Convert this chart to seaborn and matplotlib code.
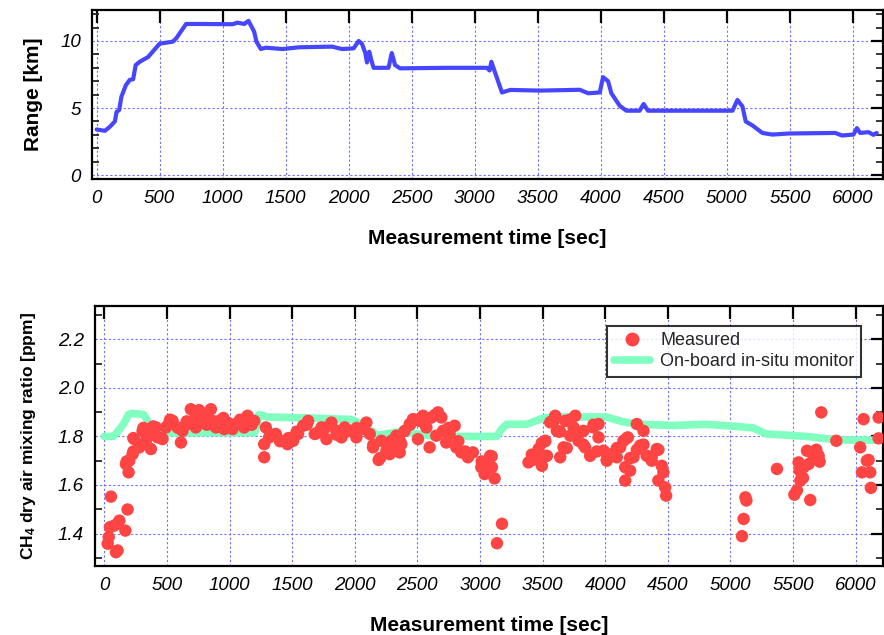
import numpy as np
import pandas as pd
import seaborn as sns
import matplotlib.pyplot as plt
from matplotlib.ticker import MultipleLocator
from matplotlib.lines import Line2D

# range to target (top panel)
range_t = [0, 66, 105, 145, 158, 179, 197, 232, 263, 290, 310, 342, 408, 500, 605, 632, 710, 816,
           1079, 1118, 1171, 1205, 1250, 1268, 1303, 1342, 1474, 1605, 1868, 1947, 2039, 2079, 2105,
           2132, 2145, 2163, 2179, 2197, 2316, 2342, 2368, 2408, 2789, 3097, 3118, 3132, 3163, 3216,
           3282, 3518, 3834, 3900, 3992, 4018, 4058, 4084, 4150, 4203, 4308, 4340, 4374, 4571, 5045,
           5084, 5124, 5150, 5203, 5282, 5361, 5492, 5861, 5913, 6005, 6032, 6058, 6124, 6163, 6189]
range_km = [3.4, 3.3, 3.6, 4.0, 4.7, 4.85, 5.85, 6.7, 7.1, 7.15, 8.2, 8.45, 8.8, 9.8, 9.95, 10.2, 11.27, 11.27,
            11.25, 11.37, 11.27, 11.5, 10.7, 9.95, 9.4, 9.5, 9.4, 9.53, 9.58, 9.4, 9.45, 10.0, 9.8,
            9.1, 8.4, 9.2, 8.6, 8.0, 8.0, 9.1, 8.2, 7.96, 8.0, 8.0, 7.8, 8.45, 7.6, 6.16,
            6.35, 6.3, 6.36, 6.1, 6.16, 7.3, 7.0, 6.1, 5.17, 4.8, 4.8, 5.3, 4.8, 4.8, 4.8,
            5.6, 5.12, 4.0, 3.7, 3.14, 3.02, 3.1, 3.14, 2.95, 3.02, 3.5, 3.14, 3.2, 3.0, 3.14]

# on-board in-situ monitor
insitu_t = [0, 72, 99, 152, 193, 219, 313, 340, 380, 500, 700, 1200, 1235, 1300, 1676, 1970, 2060,
            2184, 2371, 2639, 2840, 3133, 3173, 3213, 3372, 3505, 3559, 3851, 4011, 4144, 4277,
            4543, 4809, 5074, 5181, 5287, 5606, 5872, 6240]
insitu_ppm = [1.80, 1.80, 1.815, 1.85, 1.89, 1.895, 1.89, 1.87, 1.82, 1.815, 1.815, 1.815, 1.89, 1.88, 1.875,
              1.87, 1.85, 1.805, 1.82, 1.80, 1.80, 1.80, 1.83, 1.85, 1.85, 1.875, 1.88, 1.88, 1.88, 1.86,
              1.85, 1.845, 1.85, 1.84, 1.835, 1.81, 1.80, 1.785, 1.785]

# measured CH4
meas_t = [53, 186, 120, 45, 80, 168, 35, 27, 93, 106,
          194, 173, 199, 226, 239, 279, 306, 332, 359, 372, 412, 426, 465, 492, 519, 545, 585, 612,
          625, 665, 691, 705, 731, 758, 785, 811, 851, 864, 891, 918, 957, 984, 1024, 1051, 1090,
          1117, 1144, 1170, 1197, 1277, 1290, 1277, 1316, 1370, 1410, 1463, 1503,
          1508, 1548, 1588, 1628, 1681, 1734, 1774, 1814, 1854, 1894, 1920, 1973, 2013, 2053, 2093,
          2120, 2146, 2191, 2213, 2253, 2279, 2293, 2332, 2359, 2372, 2399, 2439, 2465, 2505, 2519,
          2545, 2572, 2598, 2612, 2651, 2665, 2692, 2705, 2731, 2758, 2798, 2811, 2851, 2904, 2944,
          3011, 3037, 3064,
          3082, 3096, 3117, 3069, 3176, 3136, 3388, 3428, 3468, 3495, 3521, 3535, 3561, 3601, 3614,
          3641, 3668, 3681, 3721, 3747, 3761, 3787, 3827, 3840, 3880, 3907, 3947, 3947, 3987, 4013,
          4053, 4093, 4120, 4146, 4160, 4160, 4181, 4199, 4226, 4253, 4279, 4306, 4332, 4372, 4412,
          4425, 4452, 4465, 4479, 4487,
          5120, 5128, 5106, 5093, 5372, 5511, 5532, 5559, 5580, 5553, 5545, 5585, 5612, 5625, 5638,
          5665, 5686, 5705, 5713, 5726, 5846, 6037, 6064, 6090, 6104, 6051, 6117, 6122, 6184, 6184,
          # extra points in the dense clumps
          232, 285, 312, 391, 458, 525, 591, 658, 738, 818, 898, 951, 1030, 1084, 1177, 179, 232,
          1350, 1403, 1470, 1537, 1617, 1697, 1763, 1856, 1936, 2016, 2149, 2202, 2282, 2362, 2442, 2495,
          2535, 2641, 2748, 2827, 2881, 3014, 3094, 3414, 3494, 3573, 3627,
          3587, 3640, 3720, 3773, 3693, 3826, 3906, 3933, 4013, 4093, 4173, 4199, 4253, 4306, 4372,
          4425, 3481, 3427, 3520]
meas_ppm = [1.552, 1.499, 1.453, 1.426, 1.433, 1.412, 1.385, 1.358, 1.323, 1.33,
            1.652, 1.686, 1.70, 1.727, 1.789, 1.755, 1.823, 1.782, 1.803, 1.748, 1.837, 1.796, 1.789,
            1.837, 1.857, 1.864, 1.837, 1.775, 1.823, 1.851, 1.912, 1.864, 1.837, 1.908, 1.864, 1.885,
            1.912, 1.864, 1.837, 1.864, 1.830, 1.857, 1.83, 1.851, 1.857, 1.837, 1.885, 1.851, 1.864,
            1.714, 1.837, 1.768, 1.796, 1.810, 1.782, 1.768, 1.796,
            1.782, 1.81, 1.844, 1.864, 1.81, 1.837, 1.789, 1.857, 1.823, 1.796, 1.837, 1.823, 1.796,
            1.83, 1.857, 1.81, 1.755, 1.703, 1.782, 1.741, 1.727, 1.782, 1.803, 1.734, 1.768, 1.823,
            1.851, 1.871, 1.789, 1.864, 1.885, 1.837, 1.755, 1.878, 1.803, 1.899, 1.878, 1.823, 1.775,
            1.81, 1.844, 1.755, 1.734, 1.714, 1.734, 1.673, 1.645, 1.686,
            1.72, 1.673, 1.627, 1.693, 1.44, 1.36, 1.693, 1.714, 1.748, 1.679, 1.782, 1.72, 1.858,
            1.885, 1.823, 1.714, 1.755, 1.864, 1.803, 1.837, 1.885, 1.782, 1.823, 1.755, 1.72, 1.837,
            1.851, 1.796, 1.741, 1.70, 1.727, 1.714, 1.755, 1.782, 1.673, 1.618, 1.796, 1.659, 1.714,
            1.851, 1.762, 1.823, 1.72, 1.70, 1.748, 1.618, 1.679, 1.652, 1.59, 1.556,
            1.549, 1.536, 1.46, 1.389, 1.666, 1.56, 1.578, 1.618, 1.629, 1.659, 1.693, 1.673, 1.741,
            1.686, 1.538, 1.714, 1.745, 1.72, 1.696, 1.899, 1.782, 1.755, 1.871, 1.70, 1.703, 1.652,
            1.652, 1.588, 1.878, 1.792,
            1.793, 1.766, 1.835, 1.841, 1.793, 1.869, 1.835, 1.862, 1.889, 1.848, 1.841, 1.876, 1.848,
            1.869, 1.848, 1.697, 1.738,
            1.807, 1.78, 1.793, 1.82, 1.848, 1.814, 1.835, 1.807, 1.82, 1.835, 1.766, 1.711, 1.752,
            1.78, 1.848, 1.869,
            1.862, 1.889, 1.835, 1.78, 1.738, 1.697, 1.718, 1.725, 1.773, 1.862, 1.82,
            1.862, 1.82, 1.869, 1.807, 1.752, 1.766, 1.848, 1.738, 1.704, 1.752, 1.793, 1.711, 1.745,
            1.766, 1.718, 1.745, 1.725, 1.704, 1.78]

sns.set_style("white")
plt.rcParams["font.family"] = ["Liberation Sans", "DejaVu Sans"]
plt.rcParams["mathtext.fontset"] = "custom"
plt.rcParams["mathtext.rm"] = "Liberation Sans:bold"
plt.rcParams["mathtext.default"] = "rm"

blue = "#4646ff"
red = "#ff4444"
green = "#80ffc0"
gridc = "#7070ff"

fig = plt.figure(figsize=(8.84, 6.35), dpi=100)
ax1 = fig.add_axes([0.104, 0.718, 0.895, 0.266])
ax2 = fig.add_axes([0.1075, 0.109, 0.8915, 0.409])

df_r = pd.DataFrame({"t": range_t, "km": range_km})
sns.lineplot(data=df_r, x="t", y="km", ax=ax1, color=blue, linewidth=3, sort=False)
ax1.set_xlim(-37, 6240)
ax1.set_ylim(-0.3, 12.3)
ax1.yaxis.set_major_locator(MultipleLocator(5))
ax1.yaxis.set_minor_locator(MultipleLocator(1))
ax1.set_ylabel("Range [km]", fontsize=15, fontweight="bold", labelpad=12, color="black")

df_i = pd.DataFrame({"t": insitu_t, "ppm": insitu_ppm})
df_m = pd.DataFrame({"t": meas_t, "ppm": meas_ppm})
sns.lineplot(data=df_i, x="t", y="ppm", ax=ax2, color=green, linewidth=5.5, sort=False, zorder=2)
sns.scatterplot(data=df_m, x="t", y="ppm", ax=ax2, color=red, s=80, edgecolor="none", zorder=3)
ax2.set_xlim(-74, 6220)
ax2.set_ylim(1.267, 2.337)
ax2.yaxis.set_major_locator(MultipleLocator(0.2))
ax2.yaxis.set_minor_locator(MultipleLocator(0.1))
ax2.yaxis.set_major_formatter(plt.FormatStrFormatter("%.1f"))
ax2.set_ylabel("CH$_4$ dry air mixing ratio [ppm]", fontsize=12.5, fontweight="bold",
               labelpad=14, color="black")

handles = [Line2D([], [], marker="o", color=red, linestyle="none", markersize=9),
           Line2D([], [], color=green, linewidth=5.5)]
leg = ax2.legend(handles, ["Measured", "On-board in-situ monitor"], loc="upper right",
                 bbox_to_anchor=(0.972, 0.925), fontsize=13, frameon=True, fancybox=False,
                 borderpad=0.35, labelspacing=0.25, handlelength=2.0, handletextpad=0.6,
                 borderaxespad=0)
leg.get_frame().set_edgecolor("black")
leg.get_frame().set_linewidth(1.5)

for ax in (ax1, ax2):
    ax.xaxis.set_major_locator(MultipleLocator(500))
    ax.grid(True, which="major", color=gridc, linestyle=(0, (2, 2)), linewidth=0.8)
    ax.tick_params(which="major", direction="in", length=9, width=1.6, top=True, right=True,
                   labelsize=13.5, pad=8, colors="black")
    ax.tick_params(which="minor", direction="in", length=5, width=1.3, left=True, right=True)
    for lab in ax.get_xticklabels() + ax.get_yticklabels():
        lab.set_fontstyle("italic")
    for sp in ax.spines.values():
        sp.set_color("black")
        sp.set_linewidth(1.6)
    ax.set_xlabel("Measurement time [sec]", fontsize=15, fontweight="bold", labelpad=16,
                  color="black")

fig.savefig("out.png", dpi=100)
